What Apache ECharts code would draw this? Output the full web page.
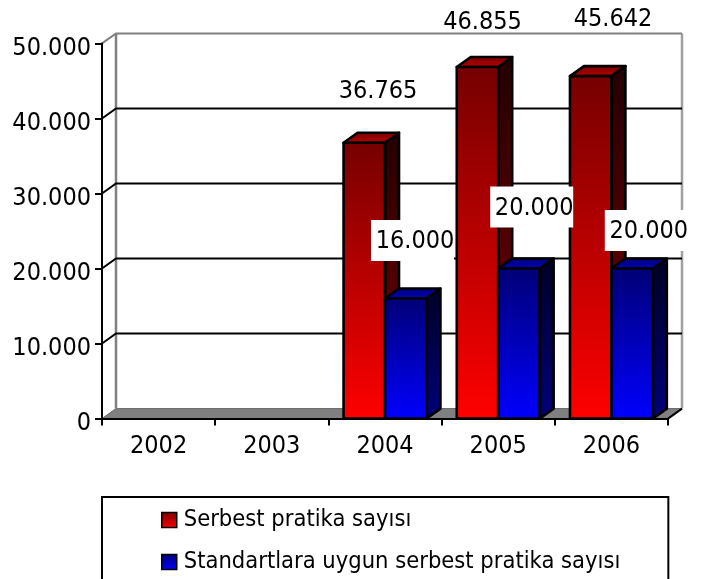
<!DOCTYPE html>
<html>
<head>
<meta charset="utf-8">
<style>
  html, body { margin: 0; padding: 0; background: #fff; overflow: hidden; }
  #chart { width: 707px; height: 579px; }
</style>
<script src="https://cdn.jsdelivr.net/npm/echarts@6/dist/echarts.min.js"></script>
</head>
<body>
<div id="chart"></div>
<script>
// veriler
var years = ['2002', '2003', '2004', '2005', '2006'];
var serbest = [null, null, 36765, 46855, 45642];
var standart = [null, null, 16000, 20000, 20000];
var yTicks = [0, 10000, 20000, 30000, 40000, 50000];
var serbestName = 'Serbest pratika sayısı';
var standartName = 'Standartlara uygun serbest pratika sayısı';

// 3B görünüm derinliği
var depthX = 14;
var depthY = 10;
var barRatio = 0.366;
var font = '"DejaVu Sans Condensed", "DejaVu Sans"';
var fontSize = 25;

function vGrad(top, bottom) {
  return new echarts.graphic.LinearGradient(0, 0, 0, 1, [
    { offset: 0, color: top },
    { offset: 1, color: bottom }
  ]);
}

function fmt(v) {
  return String(v).replace(/\B(?=(\d{3})+$)/g, '.');
}

// duvarlar ve taban
function renderWalls(params, api) {
  var v = api.value(0);
  var cs = params.coordSys;
  var y = api.coord([0, v])[1];
  var left = cs.x;
  var right = cs.x + cs.width;
  var edge = v === 0 || v === 50000;
  var color = edge ? '#808080' : '#000';
  var children = [];
  if (v === 0) {
    children.push({
      type: 'polygon',
      shape: { points: [[left, y], [left + depthX, y - depthY], [right + depthX, y - depthY], [right, y]] },
      style: { fill: '#808080', stroke: '#666', lineWidth: 1 }
    });
    children.push({
      type: 'line',
      shape: { x1: left + depthX, y1: y - depthY, x2: left + depthX, y2: cs.y - depthY },
      style: { stroke: '#808080', lineWidth: 2.5 }
    });
    children.push({
      type: 'line',
      shape: { x1: right + depthX, y1: y - depthY, x2: right + depthX, y2: cs.y - depthY },
      style: { stroke: '#a0a0a0', lineWidth: 2.5 }
    });
    children.push({
      type: 'line',
      shape: { x1: right, y1: y, x2: right + depthX, y2: y - depthY },
      style: { stroke: '#000', lineWidth: 2 }
    });
  } else {
    children.push({
      type: 'polyline',
      shape: { points: [[left, y], [left + depthX, y - depthY], [right + depthX, y - depthY]] },
      style: { fill: null, stroke: color, lineWidth: 2 }
    });
  }
  return { type: 'group', children: children };
}

function barRenderer(index, colors) {
  return function (params, api) {
    var val = api.value(1);
    if (isNaN(val)) return;
    var base = api.coord([api.value(0), 0]);
    var top = api.coord([api.value(0), val]);
    var w = api.size([1, 0])[0] * barRatio;
    var x = base[0] - w + index * w;
    var line = { stroke: '#000', lineWidth: 2.6, lineJoin: 'round' };
    return {
      type: 'group',
      children: [
        {
          type: 'polygon',
          shape: { points: [[x + w, top[1]], [x + w + depthX, top[1] - depthY], [x + w + depthX, base[1] - depthY], [x + w, base[1]]] },
          style: Object.assign({ fill: vGrad(colors.sideTop, colors.sideBottom) }, line)
        },
        {
          type: 'polygon',
          shape: { points: [[x, top[1]], [x + depthX, top[1] - depthY], [x + w + depthX, top[1] - depthY], [x + w, top[1]]] },
          style: Object.assign({ fill: vGrad(colors.capTop, colors.capBottom) }, line)
        },
        {
          type: 'rect',
          shape: { x: x, y: top[1], width: w, height: base[1] - top[1] },
          style: Object.assign({ fill: vGrad(colors.top, colors.bottom) }, line)
        }
      ]
    };
  };
}

var redFace = { top: '#750000', bottom: '#ff0000', sideTop: '#240000', sideBottom: '#7a0000', capTop: '#700000', capBottom: '#c00000' };
var blueFace = { top: '#000075', bottom: '#0000ff', sideTop: '#000024', sideBottom: '#00007a', capTop: '#000070', capBottom: '#0000c0' };

// etiketler elle yerleştirilmiş: [kategori, değer, dx, dy, kutu]
var labelShift = [
  [2, 36765, -7, -51.6, false],
  [3, 46855, -15.7, -44.2, false],
  [4, 45642, 1.6, -56.7, false],
  [2, 16000, 30, -56.6, true],
  [3, 20000, 36, -60, true],
  [4, 20000, 37.4, -36.6, true]
];

function renderLabel(params, api) {
  var s = labelShift[params.dataIndex];
  var p = api.coord([s[0], s[1]]);
  var cx = p[0] + s[2];
  var cy = p[1] + s[3];
  var children = [];
  if (s[4]) {
    children.push({
      type: 'rect',
      shape: { x: cx - 44, y: cy - 22, width: 83, height: 41 },
      style: { fill: '#fff' }
    });
  }
  children.push({
    type: 'text',
    style: { x: cx, y: cy, text: fmt(s[1]), font: fontSize + 'px ' + font, fill: '#000', align: 'center', verticalAlign: 'middle' }
  });
  return { type: 'group', children: children };
}

var chart = echarts.init(document.getElementById('chart'), null, { renderer: 'canvas' });
chart.setOption({
  animation: false,
  backgroundColor: '#fff',
  textStyle: { fontFamily: font },
  grid: { left: 102, right: 39, top: 43.4, bottom: 160.4 },
  legend: {
    left: 102,
    top: 497,
    height: 200,
    orient: 'vertical',
    align: 'left',
    itemWidth: 15,
    itemHeight: 15,
    itemGap: 18,
    padding: [11, 48, 40, 59],
    borderColor: '#000',
    borderWidth: 2,
    backgroundColor: '#fff',
    selectedMode: false,
    textStyle: { fontFamily: font, fontSize: 23.5, color: '#000', padding: [2, 0, 0, 2] },
    data: [
      { name: serbestName, icon: 'rect', itemStyle: { color: vGrad('#750000', '#ff0000'), borderColor: '#000', borderWidth: 1.5 } },
      { name: standartName, icon: 'rect', itemStyle: { color: vGrad('#000075', '#0000ff'), borderColor: '#000', borderWidth: 1.5 } }
    ]
  },
  xAxis: {
    type: 'category',
    data: years,
    z: 4,
    axisLine: { lineStyle: { color: '#000', width: 2 } },
    axisTick: { show: true, alignWithLabel: false, length: 7, lineStyle: { color: '#000', width: 2 } },
    axisLabel: { color: '#000', fontSize: fontSize, fontFamily: font, margin: 15 }
  },
  yAxis: {
    type: 'value',
    min: 0,
    max: 50000,
    interval: 10000,
    z: 4,
    axisLine: { show: true, lineStyle: { color: '#000', width: 2 } },
    axisTick: { show: true, length: 7, lineStyle: { color: '#000', width: 2 } },
    axisLabel: { color: '#000', fontSize: fontSize, fontFamily: font, margin: 11, lineHeight: 10, verticalAlign: 'top', formatter: fmt },
    splitLine: { show: false }
  },
  series: [
    {
      type: 'custom',
      name: 'duvar',
      silent: true,
      z: 1,
      renderItem: renderWalls,
      encode: { y: 0 },
      data: yTicks.map(function (t) { return [t]; })
    },
    {
      type: 'custom',
      name: serbestName,
      z: 2,
      renderItem: barRenderer(0, redFace),
      encode: { x: 0, y: 1 },
      data: serbest.map(function (v, i) { return [i, v]; })
    },
    {
      type: 'custom',
      name: standartName,
      z: 3,
      renderItem: barRenderer(1, blueFace),
      encode: { x: 0, y: 1 },
      data: standart.map(function (v, i) { return [i, v]; })
    },
    {
      type: 'custom',
      name: 'etiket',
      silent: true,
      z: 10,
      renderItem: renderLabel,
      encode: { x: 0, y: 1 },
      data: labelShift.map(function (s) { return [s[0], s[1]]; })
    }
  ]
});
</script>
</body>
</html>
